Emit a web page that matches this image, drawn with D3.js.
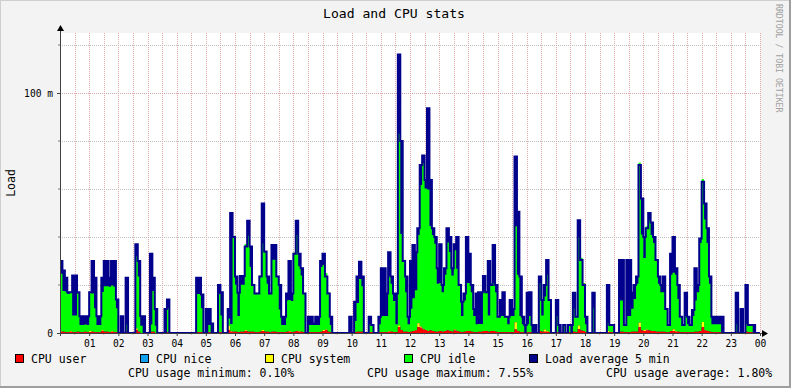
<!DOCTYPE html>
<html>
<head>
<meta charset="utf-8">
<script src="https://cdn.jsdelivr.net/npm/d3@7"></script>
<style>
  body { margin: 0; background: #f3f3f3; }
  svg { display: block; }
</style>
</head>
<body>
<div id="chart"></div>
<script>
// 5 minute samples over one day (288 per series), values in "m" (thousandths)
const loadAvg = [
  30, 26, 23, 17, 17, 24, 24, 17, 7, 7, 7, 7,
  17, 30, 23, 7, 7, 23, 30, 30, 23, 30, 30, 14,
  0, 7, 0, 23, 0, 0, 0, 37, 30, 7, 7, 0,
  0, 33, 23, 10, 0, 0, 0, 10, 14, 0, 0, 0,
  0, 0, 0, 0, 0, 0, 0, 0, 23, 23, 16, 0,
  10, 10, 4, 0, 0, 20, 17, 0, 0, 10, 50, 40,
  23.5, 16.8, 23.7, 23.7, 36, 46.8, 36, 20, 16.5, 16.5, 23.5, 54,
  34, 23.5, 16.5, 36.7, 36.7, 23.5, 20, 6.8, 6.8, 16.5, 30, 16.5,
  33, 46.8, 33, 27, 16.5, 0, 6.8, 6.8, 4, 6.8, 6.8, 30,
  33, 23.5, 16.5, 6.8, 0, 0, 0, 0, 0, 0, 0, 6.8,
  0, 13, 23.5, 29.7, 23.5, 0, 0, 6.8, 3.3, 0, 0, 6.8,
  27, 27, 16.5, 33.6, 23.5, 16.5, 16.5, 116, 80, 30, 23.5, 6.8,
  30, 36.7, 33.6, 43.6, 70, 74, 63.7, 93.6, 63.7, 43.6, 40, 27,
  37, 20, 27, 43.6, 40, 27, 37, 40, 20, 13, 16.5, 40,
  33, 20, 10, 16.5, 17, 17, 23.7, 17, 30, 20, 36.7, 20,
  6.8, 13.7, 17, 6.8, 6.8, 13.7, 10, 73.5, 50.5, 23.5, 6.8, 3.3,
  16.8, 17, 3.3, 3.3, 0, 23.5, 13.7, 20, 30.4, 13.7, 0, 0,
  13.7, 3.3, 0, 3.3, 0, 3.3, 3.3, 16.8, 6.8, 47, 30.4, 20,
  6.8, 0, 0, 16.8, 0, 0, 0, 0, 0, 20, 3.3, 3.3,
  0, 0, 30.4, 30.4, 3.3, 30.4, 30.4, 16.8, 20, 23.5, 70, 56,
  40, 43.6, 50, 46, 40, 30.4, 23.5, 20, 23.5, 10, 3.3, 33,
  40, 27, 20, 6.8, 3.3, 16.8, 6.8, 3.3, 9.6, 27, 20, 39.4,
  63, 54, 43.6, 23.5, 6.8, 6.8, 6.8, 6.8, 6.8, 0, 0, 0,
  0, 0, 16.8, 0, 10, 0, 20, 3.3, 3.3, 3.3, 0, 0
];

const cpuIdle = [
  24, 17, 17, 16, 16, 7, 7, 16, 3, 3, 3, 3,
  16, 16, 10, 3, 3, 16, 19, 19, 19, 19, 19, 10,
  0, 0, 0, 3, 0, 0, 0, 30, 23, 3, 0, 0,
  0, 3, 17, 3, 0, 0, 0, 0, 10, 0, 0, 0,
  0, 0, 0, 0, 0, 0, 0, 0, 16, 16, 10, 0,
  0, 3, 0, 0, 0, 16, 7, 0, 0, 3, 3, 40,
  19.6, 6.8, 19.6, 19.6, 36, 40, 27, 20, 16.5, 16.5, 23.5, 36,
  33, 20, 16.5, 30, 30, 23.5, 9.5, 3, 3, 13, 13, 13,
  33, 40, 27, 23.5, 16.5, 0, 3, 3, 3, 3, 3, 27,
  27, 23.5, 16.5, 3, 0, 0, 0, 0, 0, 0, 0, 0,
  0, 4.7, 12, 22, 19, 0, 0, 3.3, 3.3, 0, 0, 3.3,
  6.8, 6.8, 6.8, 23, 20, 13, 3.3, 80, 40, 30, 16.5, 3.3,
  9.6, 13.7, 16.5, 36.7, 59, 69, 59, 59, 43.6, 40, 36.7, 20,
  20, 16.5, 23.5, 36.7, 33, 23.5, 33, 26, 20, 6.8, 13, 20,
  20, 16.5, 6.8, 3.3, 3.3, 3.3, 16.5, 16.5, 6.8, 20, 20, 16.5,
  6.8, 6.8, 6.8, 6.8, 3.3, 6.8, 6.8, 40, 23.5, 6.8, 3.3, 0,
  3.3, 6.8, 0, 0, 0, 20, 6.8, 13.7, 23.5, 13.7, 0, 0,
  6.8, 0, 0, 3.3, 0, 3.3, 0, 9.6, 6.8, 36.7, 30.4, 20,
  3.3, 0, 0, 10, 0, 0, 0, 0, 0, 3.3, 3.3, 3.3,
  0, 0, 13, 13, 3.3, 6.8, 6.8, 9.6, 13.7, 20, 66.5, 40,
  30, 43, 46, 40, 36.7, 30, 20, 16.5, 16.5, 9.6, 3.3, 23.5,
  23.5, 23.5, 13.7, 6.8, 3.3, 6.8, 3.3, 3.3, 6.8, 13, 16.5, 36.7,
  59.6, 46, 36.7, 20, 3.3, 3.3, 3.3, 3.3, 0, 0, 0, 0,
  0, 0, 3.3, 0, 0, 0, 3.3, 3.3, 3.3, 0, 0, 0
];

const cpuUser = [
  .5, .5, .3, .3, .5, .3, .3, .5, .3, .3, .5, .3,
  .3, .5, .3, .3, .3, .8, .5, .5, .3, .5, .3, .3,
  0, 0, 0, .5, 0, 0, 0, 1.2, .5, 0, 0, 0,
  0, .5, .5, 0, 0, 0, 0, 0, .3, 0, 0, 0,
  0, 0, 0, 0, 0, 0, 0, 0, .3, .3, .3, 0,
  0, .3, 0, 0, 0, .3, .3, 0, 0, 1.3, .5, .5,
  .5, .3, .5, .5, .8, .5, .5, .5, .3, .3, .5, .8,
  .5, .5, .3, .5, .5, .3, .3, .3, .3, .5, .5, .3,
  .5, .8, .5, .5, .3, 0, .3, .3, .3, .3, .3, .5,
  .8, 1.2, .5, .3, 0, 0, 0, 0, 0, 0, 0, .3,
  0, .3, .5, .5, .5, 0, 0, .3, .3, 0, 0, .3,
  .3, .3, .3, .5, .5, .3, .3, 2.5, 1.2, .5, .5, .3,
  .5, .8, 1, 2.5, 2.2, 1.5, 1.2, .8, 1, .8, .5, .5,
  .8, .5, .8, 1, .8, .5, 1, .8, .5, .3, .5, .8,
  .8, .5, .3, .3, .5, .5, .8, .8, .5, .8, .8, .5,
  .3, .3, .3, .3, .3, .3, .3, 1.5, .8, .3, .3, 0,
  .3, .3, 0, 0, 0, .8, .5, .5, .5, .3, 0, 0,
  .3, 0, 0, .3, 0, .3, 0, .5, .3, 1.6, 1, .8,
  .3, 0, 0, .3, 0, 0, 0, 0, 0, .3, .3, .3,
  0, 0, .5, .5, .3, .3, .3, .5, .5, .5, 2.4, 1,
  .8, 1, 1, .8, .8, .5, .5, .5, .5, .3, .3, .8,
  .8, .5, .5, .3, .3, .3, .3, .3, .3, .5, .5, .8,
  2.4, 1, .8, .5, .3, .3, .3, .3, 0, 0, 0, 0,
  0, 0, .3, 0, 0, 0, .5, .3, .3, 0, 0, 0
];

const cpuSystem = [
  .2, 0, 0, 0, .3, 0, 0, 0, 0, 0, 0, 0,
  .5, 0, 0, 0, 0, .3, 0, 0, 0, .3, 0, 0,
  0, 0, 0, 0, 0, 0, 0, .8, 0, 0, 0, 0,
  0, 0, 0, 0, 0, 0, 0, 0, 0, 0, 0, 0,
  0, 0, 0, 0, 0, 0, 0, 0, 0, 0, 0, 0,
  0, 0, 0, 0, 0, 0, 0, 0, 0, 1.7, .3, 0,
  0, 0, 0, 0, .3, 0, 0, 0, 0, 0, 0, .5,
  0, 0, 0, 0, 0, 0, 0, 0, 0, 0, .3, 0,
  0, 0, .3, 0, 0, 0, 0, 0, 0, 0, 0, 0,
  .5, .3, 0, 0, 0, 0, 0, 0, 0, 0, 0, 0,
  0, 0, 0, 0, 0, 0, 0, 0, 0, 0, 0, 0,
  0, 0, 0, .3, 0, 0, 0, .6, 0, 0, 0, 0,
  0, 0, .3, 1.6, .5, .3, 0, 0, 0, 0, 0, 0,
  0, 0, 0, 0, 0, 0, .5, 0, 0, 0, 0, 0,
  0, 0, 0, 0, 0, 0, 0, 0, 0, 0, 0, 0,
  0, 0, 0, 0, 0, 0, 0, 3, 0, 0, 0, 0,
  0, 0, 0, 0, 0, 0, 0, 1, .3, 0, 0, 0,
  0, 0, 0, 0, 0, 0, 0, 0, 0, 1.5, 0, 0,
  0, 0, 0, 0, 0, 0, 0, 0, 0, .5, 0, 0,
  0, 0, 0, 0, 0, 0, 0, 0, 0, 0, 2, 0,
  .5, .5, 0, 0, 0, 0, 0, 0, 0, 0, 0, 0,
  .8, .3, 0, 0, 0, 0, 0, 0, 0, 0, 0, 0,
  2.2, .3, 0, 0, 0, 0, 0, 0, 0, 0, 0, 0,
  0, 0, 0, 0, 0, 0, 0, 0, 0, 0, 0, 0
];

const legendNames = ["CPU user", "CPU nice", "CPU system", "CPU idle", "Load average 5 min"];
const legendColors = ["#ff0000", "#10a0f0", "#ffff00", "#00ff00", "#00008c"];
const statNames = ["minimum", "maximum", "average"];
const statValues = ["0.10", "7.55", "1.80"];
const yTicks = [0, 100];

const W = 791, H = 388;
const stepMin = 5;
const legendX = [15, 140, 265, 404, 529];
const statX = [128, 367, 606];

const x = d3.scaleLinear().domain([0, 1440]).range([60, 760]);
const y = d3.scaleLinear().domain([0, 125]).range([333, 33]);

const rows = loadAvg.map((v, i) => ({
  t: i * stepMin, load: v, user: cpuUser[i], system: cpuSystem[i], idle: cpuIdle[i]
}));
// extra point so the last step reaches the right edge
const pts = rows.concat([Object.assign({}, rows[rows.length - 1], { t: 1440 })]);

const svg = d3.select("#chart").append("svg")
  .attr("width", W)
  .attr("height", H)
  .style("font-family", "'DejaVu Sans Mono', monospace");

// frame
svg.append("rect").attr("width", W).attr("height", H).attr("fill", "#f3f3f3");
svg.append("path").attr("d", `M0,${H} V0 H${W}`).attr("fill", "none").attr("stroke", "#cfcfcf").attr("stroke-width", 2);
svg.append("path").attr("d", `M0,${H - 1} H${W - 1} V0`).attr("fill", "none").attr("stroke", "#9e9e9e").attr("stroke-width", 2);

// canvas
svg.append("rect")
  .attr("x", x(0)).attr("y", y(125))
  .attr("width", x(1440) - x(0)).attr("height", y(0) - y(125))
  .attr("fill", "#fff");

// grid
const grid = svg.append("g").attr("shape-rendering", "crispEdges");
grid.selectAll("line.v")
  .data(d3.range(30, 1441, 30))
  .enter().append("line")
  .attr("x1", d => Math.round(x(d)) + 0.5).attr("x2", d => Math.round(x(d)) + 0.5)
  .attr("y1", y(125)).attr("y2", y(0))
  .attr("stroke", "#e6a8a8")
  .attr("stroke-dasharray", "1,1");
grid.selectAll("line.h")
  .data(d3.range(20, 121, 20))
  .enter().append("line")
  .attr("x1", x(0)).attr("x2", x(1440))
  .attr("y1", d => Math.round(y(d)) + 0.5).attr("y2", d => Math.round(y(d)) + 0.5)
  .attr("stroke", d => d === 100 ? "#d0a8a8" : "#c0c0c0")
  .attr("stroke-dasharray", "1,1");

// load area (filled)
svg.append("path")
  .datum(pts)
  .attr("fill", legendColors[4])
  .attr("d", d3.area().curve(d3.curveStepAfter)
    .x(d => x(d.t)).y0(y(0)).y1(d => y(d.load)));

// stacked cpu areas
const series = d3.stack().keys(["user", "system", "idle"])(pts);
const cpuColor = { user: legendColors[0], system: legendColors[2], idle: legendColors[3] };
svg.selectAll("path.cpu")
  .data(series.slice().reverse())
  .enter().append("path")
  .attr("class", "cpu")
  .attr("fill", s => cpuColor[s.key])
  .attr("d", d3.area().curve(d3.curveStepAfter)
    .x(d => x(d.data.t)).y0(d => y(d[0])).y1(d => y(d[1])));

// load line on top
svg.append("path")
  .datum(pts)
  .attr("fill", "none")
  .attr("stroke", legendColors[4])
  .attr("stroke-width", 2)
  .attr("d", d3.line().curve(d3.curveStepAfter)
    .x(d => x(d.t)).y(d => y(d.load)));

// x axis
const xAxis = svg.append("g")
  .attr("transform", `translate(0,${y(0)})`)
  .call(d3.axisBottom(x)
    .tickValues(d3.range(60, 1441, 60))
    .tickFormat(t => String((t / 60) % 24).padStart(2, "0"))
    .tickSize(3)
    .tickPadding(4));
xAxis.select(".domain").remove();
xAxis.selectAll("line").attr("stroke", "#404040");
xAxis.selectAll("text").attr("fill", "#000").style("font-size", "9.6px")
  .style("font-family", "'DejaVu Sans Mono', monospace");

svg.append("g")
  .selectAll("line")
  .data(d3.range(30, 1441, 60))
  .enter().append("line")
  .attr("x1", d => x(d)).attr("x2", d => x(d))
  .attr("y1", y(0)).attr("y2", y(0) + 2)
  .attr("stroke", "#e6a8a8");

// y axis
const yAxis = svg.append("g")
  .attr("transform", `translate(${x(0)},0)`)
  .call(d3.axisLeft(y)
    .tickValues(yTicks)
    .tickFormat(d => d === 0 ? "0" : d + " m")
    .tickSize(3)
    .tickPadding(4));
yAxis.select(".domain").remove();
yAxis.selectAll("line").attr("stroke", "#404040");
yAxis.selectAll("text").attr("fill", "#000").style("font-size", "9.6px")
  .style("font-family", "'DejaVu Sans Mono', monospace");

svg.append("g")
  .selectAll("line")
  .data([20, 40, 60, 80, 120])
  .enter().append("line")
  .attr("x1", x(0) - 2).attr("x2", x(0))
  .attr("y1", d => y(d)).attr("y2", d => y(d))
  .attr("stroke", "#808080");

// axis lines with arrows
svg.append("line")
  .attr("x1", x(0) - 3).attr("x2", x(1440) + 3)
  .attr("y1", y(0) + 0.5).attr("y2", y(0) + 0.5)
  .attr("stroke", "#404040");
svg.append("path")
  .attr("d", `M${x(1440) + 2},${y(0) - 3} L${x(1440) + 8},${y(0) + 0.5} L${x(1440) + 2},${y(0) + 4} Z`)
  .attr("fill", "#000");
svg.append("line")
  .attr("x1", x(0) + 0.5).attr("x2", x(0) + 0.5)
  .attr("y1", y(0) + 3).attr("y2", y(125) - 4)
  .attr("stroke", "#404040");
svg.append("path")
  .attr("d", `M${x(0) - 3},${y(125) - 2} L${x(0) + 0.5},${y(125) - 8} L${x(0) + 4},${y(125) - 2} Z`)
  .attr("fill", "#000");

// title and labels
svg.append("text")
  .attr("x", 394)
  .attr("y", 18)
  .attr("text-anchor", "middle")
  .style("font-size", "13.1px")
  .text("Load and CPU stats");

svg.append("text")
  .attr("transform", `translate(15,${(y(0) + y(125)) / 2}) rotate(-90)`)
  .attr("text-anchor", "middle")
  .style("font-size", "11.5px")
  .text("Load");

svg.append("text")
  .attr("transform", "translate(776,4) rotate(90)")
  .attr("fill", "#a0a0a0")
  .style("font-size", "8.2px")
  .text("RRDTOOL / TOBI OETIKER");

// legend
const legend = svg.append("g").style("font-size", "11.5px");
legendNames.forEach((name, i) => {
  legend.append("rect")
    .attr("x", legendX[i] + 0.5).attr("y", 354.5)
    .attr("width", 8).attr("height", 8)
    .attr("fill", legendColors[i])
    .attr("stroke", "#000");
  legend.append("text")
    .attr("x", legendX[i] + 16)
    .attr("y", 362.5)
    .text(name);
});
statNames.forEach((name, i) => {
  legend.append("text")
    .attr("x", statX[i])
    .attr("y", 376.5)
    .text(`CPU usage ${name}: ${statValues[i]}%`);
});
</script>
</body>
</html>
